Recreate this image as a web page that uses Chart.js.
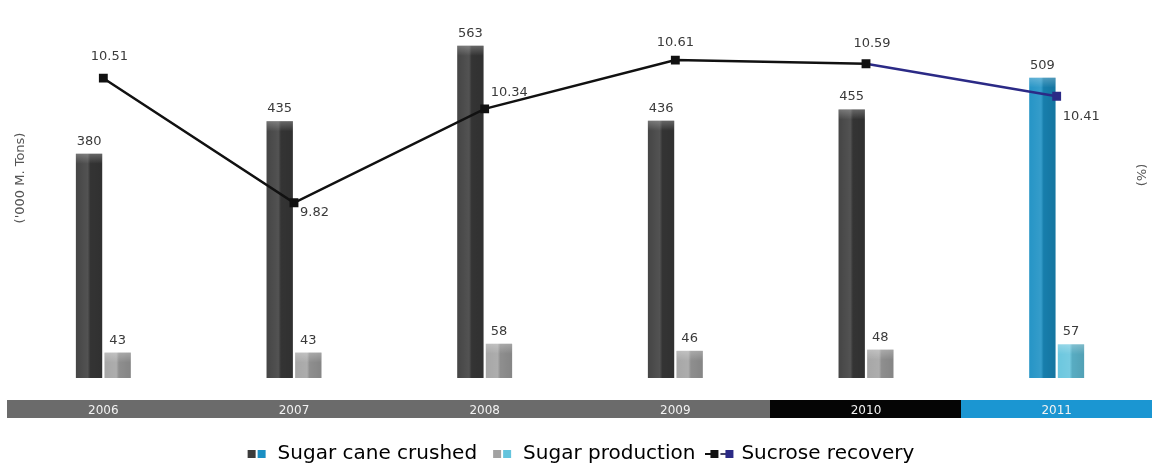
<!DOCTYPE html>
<html>
<head>
<meta charset="utf-8">
<script src="https://cdn.jsdelivr.net/npm/chart.js@4"></script>
<style>
  html, body { margin: 0; padding: 0; background: #fff; }
  #wrap { width: 1152px; height: 471px; }
</style>
</head>
<body>
<div id="wrap"><canvas id="sugarChart" width="1152" height="471"></canvas></div>
<script>
const years = ['2006', '2007', '2008', '2009', '2010', '2011'];
const caneCrushed = [380, 435, 563, 436, 455, 509];
const sugarProduction = [43, 43, 58, 46, 48, 57];
const sucroseRecovery = [10.51, 9.82, 10.34, 10.61, 10.59, 10.41];

const caneColors = ['#3b3b3b', '#3b3b3b', '#3b3b3b', '#3b3b3b', '#3b3b3b', '#1a8fc3'];
const prodColors = ['#a2a2a2', '#a2a2a2', '#a2a2a2', '#a2a2a2', '#a2a2a2', '#64c4dd'];
const stripColors = ['#6b6b6b', '#6b6b6b', '#6b6b6b', '#6b6b6b', '#050505', '#1b96d2'];
const lineBlack = '#111111';
const lineNavy = '#2b2a86';
const textColor = '#3a3a3a';

// where each sucrose label sits relative to its point: [dx, dy, align]
const lineLabelPos = [
  [6, -22, 'center'],
  [6, 10, 'left'],
  [6, -16, 'left'],
  [0, -17, 'center'],
  [6, -20, 'center'],
  [6, 20, 'left']
];

function swatch(colors) {
  const c = document.createElement('canvas');
  c.width = 20; c.height = 10;
  const g = c.getContext('2d');
  g.fillStyle = colors[0]; g.fillRect(1, 1, 8, 8);
  g.fillStyle = colors[1]; g.fillRect(11, 1, 8, 8);
  return c;
}

function lineSwatch() {
  const c = document.createElement('canvas');
  c.width = 30; c.height = 10;
  const g = c.getContext('2d');
  g.fillStyle = lineBlack;
  g.fillRect(0, 4, 5, 2);
  g.fillRect(5, 1, 8, 8);
  g.fillStyle = '#444466';
  g.fillRect(15, 4, 5, 2);
  g.fillStyle = lineNavy;
  g.fillRect(20, 1, 8, 8);
  return c;
}

const yearStrip = {
  id: 'yearStrip',
  beforeDraw(chart) {
    const x = chart.scales.x;
    const ctx = chart.ctx;
    const half = (x.getPixelForValue(1) - x.getPixelForValue(0)) / 2;
    ctx.save();
    years.forEach((y, i) => {
      const cx = x.getPixelForValue(i);
      const left = Math.floor(cx - half);
      const right = Math.ceil(cx + half);
      ctx.fillStyle = stripColors[i];
      ctx.fillRect(left, 400, right - left, 18);
    });
    ctx.restore();
  }
};

// soft shading on the bars, like the original's rounded columns
const barShade = {
  id: 'barShade',
  afterDatasetDraw(chart, args) {
    if (args.index > 1) return;
    const ctx = chart.ctx;
    ctx.save();
    args.meta.data.forEach(bar => {
      const left = bar.x - bar.width / 2;
      const h = bar.base - bar.y;
      const g = ctx.createLinearGradient(left, 0, left + bar.width, 0);
      g.addColorStop(0, 'rgba(255,255,255,0.05)');
      g.addColorStop(0.45, 'rgba(255,255,255,0.12)');
      g.addColorStop(0.55, 'rgba(0,0,0,0.12)');
      g.addColorStop(1, 'rgba(0,0,0,0.18)');
      ctx.fillStyle = g;
      ctx.fillRect(left, bar.y, bar.width, h);
      const cap = Math.min(10, h / 2);
      const t = ctx.createLinearGradient(0, bar.y, 0, bar.y + cap);
      t.addColorStop(0, 'rgba(255,255,255,0.25)');
      t.addColorStop(1, 'rgba(255,255,255,0)');
      ctx.fillStyle = t;
      ctx.fillRect(left, bar.y, bar.width, cap);
    });
    ctx.restore();
  }
};

const axisTitles = {
  id: 'axisTitles',
  afterDraw(chart) {
    const ctx = chart.ctx;
    ctx.save();
    ctx.fillStyle = '#555';
    ctx.font = '13px "DejaVu Sans"';
    ctx.textAlign = 'center';
    ctx.textBaseline = 'middle';
    ctx.translate(21, 178);
    ctx.rotate(-Math.PI / 2);
    ctx.fillText("('000 M. Tons)", 0, 0);
    ctx.restore();
    ctx.save();
    ctx.fillStyle = '#555';
    ctx.font = '13px "DejaVu Sans"';
    ctx.textAlign = 'center';
    ctx.textBaseline = 'middle';
    ctx.translate(1140, 175);
    ctx.rotate(Math.PI / 2);
    ctx.fillText('(%)', 0, 0);
    ctx.restore();
  }
};

const valueLabels = {
  id: 'valueLabels',
  afterDatasetsDraw(chart) {
    const ctx = chart.ctx;
    ctx.save();
    ctx.fillStyle = textColor;
    ctx.font = '13px "DejaVu Sans"';
    ctx.textBaseline = 'bottom';
    ctx.textAlign = 'center';
    [0, 1].forEach(di => {
      const ds = chart.data.datasets[di];
      chart.getDatasetMeta(di).data.forEach((bar, j) => {
        ctx.fillText(ds.data[j], bar.x, bar.y - 6);
      });
    });
    ctx.textBaseline = 'middle';
    chart.getDatasetMeta(2).data.forEach((pt, j) => {
      const p = lineLabelPos[j];
      ctx.textAlign = p[2];
      ctx.fillText(sucroseRecovery[j].toFixed(2), pt.x + p[0], pt.y + p[1]);
    });
    ctx.restore();
  }
};

new Chart(document.getElementById('sugarChart'), {
  type: 'bar',
  data: {
    labels: years,
    datasets: [
      {
        label: 'Sugar cane crushed',
        data: caneCrushed,
        backgroundColor: caneColors,
        yAxisID: 'y',
        categoryPercentage: 0.3,
        barPercentage: 0.92,
        order: 2
      },
      {
        label: 'Sugar production',
        data: sugarProduction,
        backgroundColor: prodColors,
        yAxisID: 'y',
        categoryPercentage: 0.3,
        barPercentage: 0.92,
        order: 2
      },
      {
        type: 'line',
        label: 'Sucrose recovery',
        data: sucroseRecovery,
        yAxisID: 'y1',
        borderColor: lineBlack,
        borderWidth: 2.5,
        pointStyle: 'rect',
        pointRadius: 4.5,
        pointBackgroundColor: [lineBlack, lineBlack, lineBlack, lineBlack, lineBlack, lineNavy],
        pointBorderColor: [lineBlack, lineBlack, lineBlack, lineBlack, lineBlack, lineNavy],
        segment: {
          borderColor: ctx => ctx.p0DataIndex === 4 ? lineNavy : lineBlack
        },
        tension: 0,
        order: 0
      }
    ]
  },
  options: {
    responsive: false,
    animation: false,
    layout: { autoPadding: false, padding: { left: 8, right: 0, top: 24, bottom: -3 } },
    scales: {
      x: {
        grid: { display: false },
        border: { display: false },
        ticks: { color: '#f2f2f2', font: { size: 12, family: 'DejaVu Sans' }, padding: 18 },
        afterFit: scale => { scale.height = 52; }
      },
      y: { display: false, min: 0, max: 600 },
      y1: { display: false, position: 'right', min: 8.85, max: 10.81 }
    },
    plugins: {
      tooltip: { enabled: false },
      legend: {
        position: 'bottom',
        labels: {
          usePointStyle: true,
          pointStyleWidth: 22,
          font: { size: 20, family: 'DejaVu Sans' },
          color: '#333',
          padding: 14,
          generateLabels: () => [
            { text: 'Sugar cane crushed', pointStyle: swatch(['#3b3b3b', '#1a8fc3']), datasetIndex: 0, lineWidth: 0 },
            { text: 'Sugar production', pointStyle: swatch(['#a2a2a2', '#64c4dd']), datasetIndex: 1, lineWidth: 0 },
            { text: 'Sucrose recovery', pointStyle: lineSwatch(), datasetIndex: 2, lineWidth: 0 }
          ]
        }
      }
    }
  },
  plugins: [yearStrip, barShade, axisTitles, valueLabels]
});
</script>
</body>
</html>
